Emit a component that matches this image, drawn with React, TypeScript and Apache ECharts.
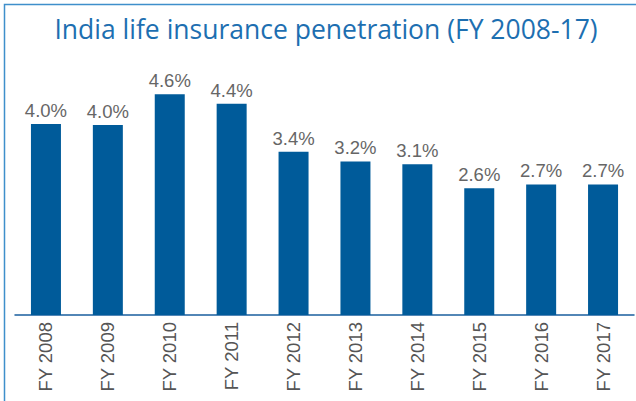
import React, { useEffect, useRef } from "react";
import * as echarts from "echarts";

const categories = ["FY 2008", "FY 2009", "FY 2010", "FY 2011", "FY 2012", "FY 2013", "FY 2014", "FY 2015", "FY 2016", "FY 2017"];
const penetration = [3.98, 3.96, 4.6, 4.4, 3.4, 3.2, 3.14, 2.64, 2.72, 2.72];
const titleText = "India life insurance penetration (FY 2008-17)";

export default function App() {
  const ref = useRef<HTMLDivElement>(null);
  useEffect(() => {
    document.body.style.margin = "0";
    const chart = echarts.init(ref.current!, null, { renderer: "svg" });
    chart.setOption({
      animation: false,
      backgroundColor: "#ffffff",
      title: {
        text: titleText,
        left: 321,
        textAlign: "center",
        top: 10,
        textStyle: { color: "#1d6fb1", fontSize: 26.5, fontWeight: "normal", fontFamily: "Open Sans" },
      },
      graphic: [
        {
          type: "rect",
          shape: { x: 4.5, y: 4.5, width: 700, height: 500 },
          style: { fill: "none", stroke: "#3f8fcb", lineWidth: 1.5 },
          silent: true,
        },
      ],
      grid: { left: 15, right: 2, top: 75, bottom: 86 },
      xAxis: {
        type: "category",
        data: categories,
        axisLine: { lineStyle: { color: "#1a5f9e", width: 1.5 } },
        axisTick: { show: false },
        axisLabel: {
          rotate: 90,
          color: "#555555",
          fontSize: 18.5,
          margin: 7,
          fontFamily: "Liberation Sans",
        },
      },
      yAxis: { type: "value", min: 0, max: 5, show: false },
      series: [
        {
          type: "bar",
          data: penetration,
          barWidth: 30,
          itemStyle: { color: "#005b9a" },
          label: {
            show: true,
            position: "top",
            distance: 4,
            color: "#666666",
            fontSize: 18.5,
            fontFamily: "Liberation Sans",
            formatter: (p: any) => p.value.toFixed(1) + "%",
          },
        },
      ],
    });
    return () => chart.dispose();
  }, []);
  return <div ref={ref} style={{ width: 636, height: 401 }} />;
}
